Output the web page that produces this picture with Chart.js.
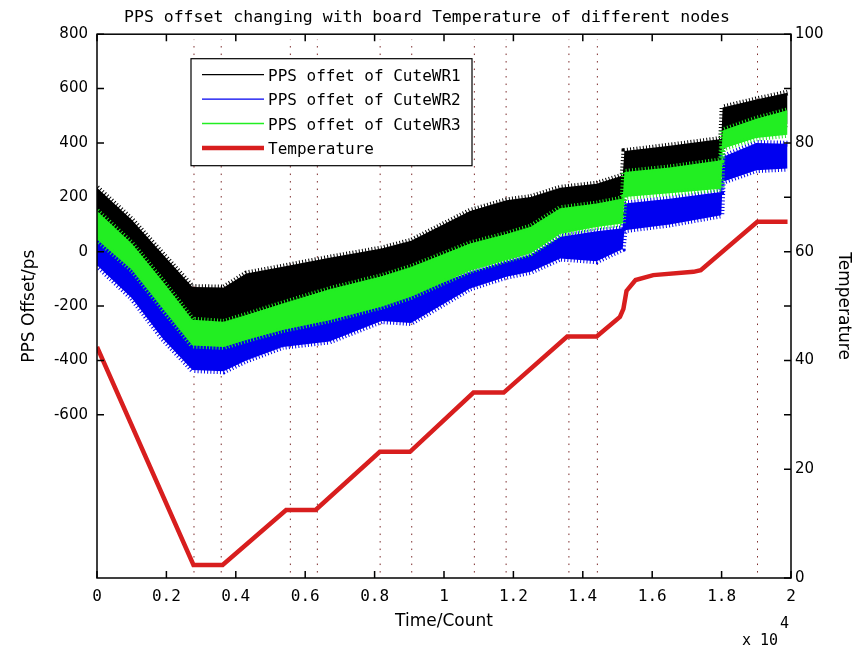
<!DOCTYPE html>
<html>
<head>
<meta charset="utf-8">
<title>PPS offset vs board temperature</title>
<script src="https://cdn.jsdelivr.net/npm/chart.js@4.4.1/dist/chart.umd.min.js"></script>
<style>
  html, body { margin: 0; padding: 0; background: #fff; }
  #wrap { width: 854px; height: 649px; position: relative; }
</style>
</head>
<body>
<div id="wrap"><canvas id="ppsChart"></canvas></div>
<script>
// sample positions (counts) for the offset envelopes
var offsetCounts = [0, 1000, 1900, 2750, 3650, 4300, 5350, 6700, 8200, 9050, 10750, 11800, 12500, 13350, 14400, 15150, 15200, 16500, 17990, 18030, 19000, 19900];

// upper / lower edge of each noisy offset trace (ps)
var wr1High = [235, 118, -10, -130, -132, -80, -55, -22, 12, 40, 150, 189, 201, 235, 250, 280, 370, 390, 415, 530, 560, 585];
var wr1Low  = [100, -20, -160, -300, -308, -283, -240, -195, -140, -106, -20, 15, 42, 110, 130, 146, 243, 260, 286, 396, 430, 470];
var wr3High = [150, 30, -110, -250, -258, -233, -190, -138, -90, -56, 30, 65, 92, 160, 177, 196, 293, 310, 336, 446, 489, 520];
var wr3Low  = [45, -65, -210, -345, -350, -325, -288, -252, -202, -166, -70, -31, -6, 65, 91, 104, 201, 215, 232, 379, 418, 430];
var wr2High = [55, -55, -200, -335, -340, -315, -278, -242, -192, -156, -75, -36, -11, 55, 75, 86, 177, 195, 220, 348, 400, 397];
var wr2Low  = [-50, -170, -320, -435, -440, -400, -350, -330, -255, -262, -135, -92, -74, -25, -35, 10, 79, 100, 134, 257, 300, 306];

// board temperature
var tempCounts = [0, 2780, 3620, 5450, 6300, 8150, 9020, 10850, 11720, 13550, 14400, 15070, 15170, 15260, 15520, 16030, 17190, 17400, 19030, 19900];
var tempValues = [42.5, 2.4, 2.4, 12.5, 12.5, 23.2, 23.2, 34.1, 34.1, 44.4, 44.4, 48.0, 49.5, 52.8, 54.8, 55.7, 56.3, 56.6, 65.5, 65.5];

// dotted markers at the temperature plateau edges
var markerCounts = [2795, 3580, 5572, 6350, 8160, 9070, 10875, 11790, 13600, 14420, 19035];

var seriesNames = ['PPS offet of CuteWR1', 'PPS offet of CuteWR2', 'PPS offet of CuteWR3', 'Temperature'];
var seriesColors = ['#000000', '#0000f0', '#22ee22', '#d81e1e'];

function pts(xs, ys) {
    return xs.map(function (c, i) { return { x: c, y: ys[i] }; });
}

// a noisy trace is drawn as a filled band; the wide dashed edge gives it a ragged rim
function band(high, low, color, order) {
    var edge = { borderColor: color, borderWidth: 6, borderDash: [1, 2.2], borderCapStyle: 'butt', order: order, yAxisID: 'y' };
    return [
        Object.assign({ data: pts(offsetCounts, high), fill: false }, edge),
        Object.assign({ data: pts(offsetCounts, low), backgroundColor: color, fill: '-1' }, edge)
    ];
}

var datasets = [
    { label: seriesNames[3], data: pts(tempCounts, tempValues), borderColor: seriesColors[3], borderWidth: 4.5, yAxisID: 'yT', order: 0, fill: false }
];
datasets = datasets.concat(band(wr3High, wr3Low, seriesColors[2], 1));
datasets = datasets.concat(band(wr2High, wr2Low, seriesColors[1], 2));
datasets = datasets.concat(band(wr1High, wr1Low, seriesColors[0], 3));
markerCounts.forEach(function (c) {
    datasets.push({
        data: [{ x: c, y: 1 }, { x: c, y: 99 }],
        borderColor: 'rgba(110,20,20,0.9)', borderWidth: 1, borderDash: [1.5, 6],
        yAxisID: 'yT', order: 4, fill: false
    });
});

// inward tick marks and the box around the axes
var axesBox = {
    id: 'axesBox',
    afterDatasetsDraw: function (chart) {
        var ctx = chart.ctx, a = chart.chartArea, s = chart.scales, len = 7;
        ctx.save();
        ctx.strokeStyle = '#000';
        ctx.lineWidth = 1.5;
        ctx.strokeRect(a.left, a.top, a.right - a.left, a.bottom - a.top);
        ctx.beginPath();
        s.x.ticks.forEach(function (t) {
            var px = s.x.getPixelForValue(t.value);
            ctx.moveTo(px, a.bottom); ctx.lineTo(px, a.bottom - len);
            ctx.moveTo(px, a.top); ctx.lineTo(px, a.top + len);
        });
        s.y.ticks.forEach(function (t) {
            if (t.value < -600) return;
            var py = s.y.getPixelForValue(t.value);
            ctx.moveTo(a.left, py); ctx.lineTo(a.left + len, py);
            ctx.moveTo(a.right, py); ctx.lineTo(a.right - len, py);
        });
        s.yT.ticks.forEach(function (t) {
            var py = s.yT.getPixelForValue(t.value);
            ctx.moveTo(a.right, py); ctx.lineTo(a.right - len, py);
        });
        ctx.stroke();

        // legend box
        var lx = a.left + 94, ly = a.top + 24.5, lw = 281, lh = 107;
        ctx.fillStyle = '#fff';
        ctx.fillRect(lx, ly, lw, lh);
        ctx.lineWidth = 1.2;
        ctx.strokeRect(lx, ly, lw, lh);
        ctx.font = '16px "DejaVu Sans Mono"';
        ctx.textBaseline = 'middle';
        seriesNames.forEach(function (name, i) {
            var ry = ly + 16 + i * 24.4;
            ctx.beginPath();
            ctx.strokeStyle = seriesColors[i];
            ctx.lineWidth = i === 3 ? 4.5 : 1.3;
            ctx.moveTo(lx + 11, ry);
            ctx.lineTo(lx + 73, ry);
            ctx.stroke();
            ctx.fillStyle = '#000';
            ctx.fillText(name, lx + 77, ry + 2);
        });

        // exponent of the count axis
        ctx.font = '15px "DejaVu Sans Mono"';
        ctx.textBaseline = 'alphabetic';
        ctx.fillText('x 10', 742, 645);
        ctx.fillText('4', 780, 628);
        ctx.restore();
    }
};

var ctx = document.getElementById('ppsChart');
var config = {
    type: 'line',
    data: { datasets: datasets },
    options: {
        responsive: true,
        maintainAspectRatio: false,
        animation: false,
        layout: { padding: 0 },
        elements: { point: { radius: 0 }, line: { tension: 0 } },
        plugins: {
            legend: { display: false },
            tooltip: { enabled: false },
            title: {
                display: true,
                text: 'PPS offset changing with board Temperature of different nodes',
                color: '#000',
                font: { family: 'DejaVu Sans Mono', size: 16.5, weight: 'normal' },
                padding: { top: 7.4, bottom: 7 }
            }
        },
        scales: {
            x: {
                type: 'linear', min: 0, max: 20000,
                afterFit: function (scale) { scale.height = 71; },
                grid: { drawOnChartArea: false, drawTicks: false },
                border: { display: false },
                ticks: {
                    stepSize: 2000, autoSkip: false, maxRotation: 0, padding: 9, color: '#000',
                    font: { family: 'DejaVu Sans Mono', size: 16 },
                    callback: function (v) { return String(+(v / 10000).toFixed(1)); }
                },
                title: {
                    display: true, text: 'Time/Count', color: '#000',
                    font: { family: 'DejaVu Sans', size: 17 }, padding: { top: 0, bottom: 17 }
                }
            },
            y: {
                position: 'left', min: -1200, max: 800,
                afterFit: function (scale) { scale.width = 97; },
                grid: { drawOnChartArea: false, drawTicks: false },
                border: { display: false },
                ticks: {
                    stepSize: 200, autoSkip: false, padding: 9, color: '#000',
                    font: { family: 'DejaVu Sans', size: 15 },
                    callback: function (v) { return v >= -600 ? String(v) : ''; }
                },
                title: {
                    display: true, text: 'PPS Offset/ps', color: '#000',
                    font: { family: 'DejaVu Sans', size: 17 }, padding: { top: 19, bottom: 0 }
                }
            },
            yT: {
                position: 'right', min: 0, max: 100,
                afterFit: function (scale) { scale.width = 63; },
                grid: { drawOnChartArea: false, drawTicks: false },
                border: { display: false },
                ticks: {
                    stepSize: 20, autoSkip: false, padding: 4, color: '#000',
                    font: { family: 'DejaVu Sans', size: 15 }
                },
                title: {
                    display: true, text: 'Temperature', color: '#000',
                    font: { family: 'DejaVu Sans', size: 17 }, padding: { top: 0, bottom: 0 }
                }
            }
        }
    },
    plugins: [axesBox]
};

var ppsChart = new Chart(ctx, config);
</script>
</body>
</html>
